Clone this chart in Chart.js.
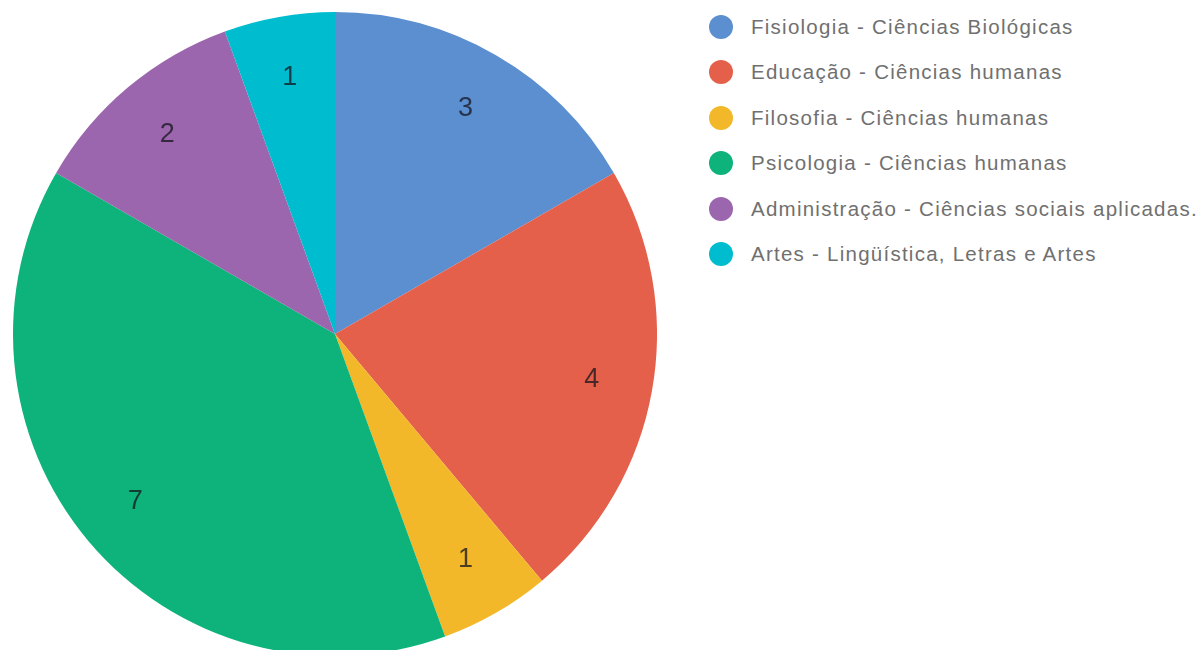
<!DOCTYPE html>
<html>
<head>
<meta charset="utf-8">
<script src="https://cdn.jsdelivr.net/npm/chart.js@4"></script>
<style>
  html, body { margin: 0; width: 1202px; height: 650px; overflow: hidden; background: #fff; }
  #pie-wrap { position: absolute; left: 13px; top: 12px; width: 644px; height: 644px; }
  #legend { position: absolute; left: 709px; top: 4px; font-family: "Liberation Sans", Arial, sans-serif; font-size: 20.5px; letter-spacing: 1.25px; color: #707070; }
  .leg-row { height: 45.5px; display: flex; align-items: center; white-space: nowrap; }
  .leg-dot { width: 24px; height: 24px; border-radius: 50%; margin-right: 18px; flex: none; }
</style>
</head>
<body>
<div id="pie-wrap"><canvas id="pie"></canvas></div>
<div id="legend"></div>
<script>
const areas = [
  'Fisiologia - Ciências Biológicas',
  'Educação - Ciências humanas',
  'Filosofia - Ciências humanas',
  'Psicologia - Ciências humanas',
  'Administração - Ciências sociais aplicadas.',
  'Artes - Lingüística, Letras e Artes'
];
const counts = [3, 4, 1, 7, 2, 1];
const sliceColors = ['#5b8fd0', '#e5604b', '#f3b829', '#0db37a', '#9b66ad', '#00bccf'];

// ── value labels drawn inside each slice ──
const sliceLabels = {
  id: 'sliceLabels',
  afterDatasetsDraw(chart) {
    const ctx = chart.ctx;
    const meta = chart.getDatasetMeta(0);
    ctx.save();
    ctx.font = '27px "Liberation Sans", Arial, sans-serif';
    ctx.fillStyle = 'rgba(20,20,30,0.75)';
    ctx.textAlign = 'center';
    ctx.textBaseline = 'middle';
    meta.data.forEach((arc, i) => {
      const { x, y, startAngle, endAngle, outerRadius } = arc.getProps(['x', 'y', 'startAngle', 'endAngle', 'outerRadius'], true);
      const mid = (startAngle + endAngle) / 2;
      const r = outerRadius * 0.81;
      ctx.fillText(String(counts[i]), x + Math.cos(mid) * r, y + Math.sin(mid) * r);
    });
    ctx.restore();
  }
};

new Chart(document.getElementById('pie'), {
  type: 'pie',
  data: {
    labels: areas,
    datasets: [{ data: counts, backgroundColor: sliceColors, borderWidth: 0 }]
  },
  options: {
    responsive: true,
    maintainAspectRatio: false,
    animation: false,
    layout: { padding: 0 },
    plugins: { legend: { display: false }, tooltip: { enabled: false } }
  },
  plugins: [sliceLabels]
});

document.getElementById('legend').innerHTML = areas.map((a, i) => `
  <div class="leg-row"><span class="leg-dot" style="background:${sliceColors[i]}"></span>${a}</div>`).join('');
</script>
</body>
</html>
